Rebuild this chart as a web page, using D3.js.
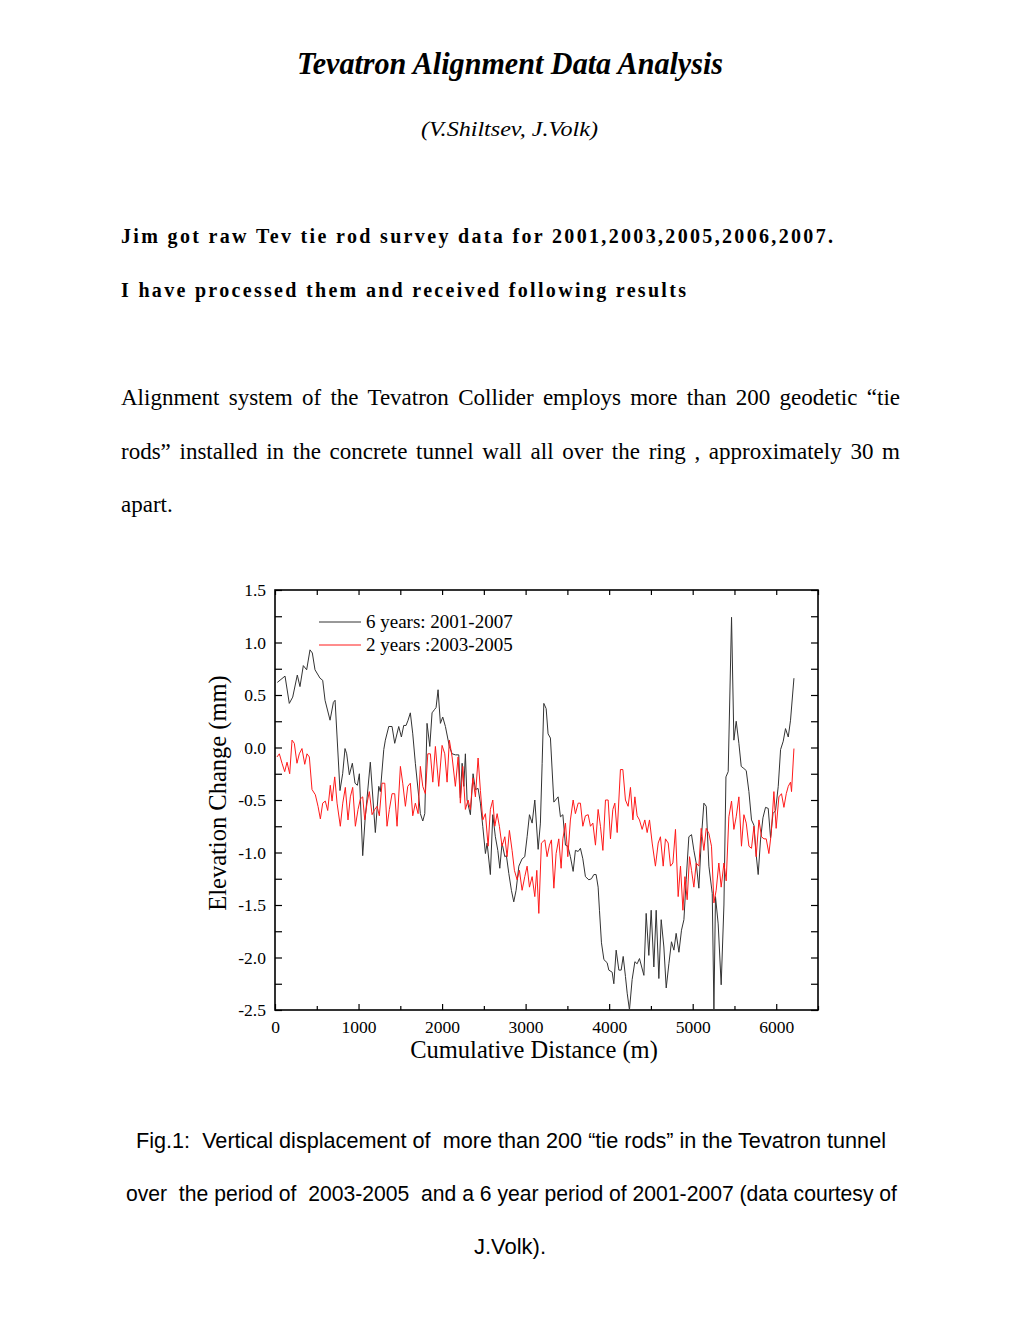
<!DOCTYPE html>
<html>
<head>
<meta charset="utf-8">
<script src="https://d3js.org/d3.v7.min.js"></script>
<style>
  body { margin: 0; background: #fff; }
  text { fill: #000; }
</style>
</head>
<body>
<div id="page"></div>
<script>
// Tie rod survey data (distance in m, elevation change in mm)
var sixYearDist = [
  28, 120, 171, 212, 267, 299, 339, 379, 419, 447,
  479, 539, 571, 599, 659, 699, 719, 778, 810, 838,
  858, 890, 926, 958, 986, 1010, 1050, 1078, 1141, 1201,
  1242, 1261, 1302, 1321, 1362, 1401, 1433, 1481, 1513, 1541,
  1569, 1593, 1620, 1649, 1680, 1721, 1740, 1769, 1793, 1820,
  1853, 1880, 1908, 1928, 1952, 1980, 2008, 2040, 2087, 2120,
  2159, 2200, 2219, 2240, 2260, 2279, 2299, 2339, 2371, 2399,
  2431, 2459, 2487, 2519, 2539, 2578, 2607, 2638, 2667, 2691,
  2718, 2751, 2770, 2799, 2830, 2858, 2886, 2919, 2958, 2990,
  3018, 3046, 3078, 3110, 3150, 3177, 3198, 3218, 3246, 3269,
  3297, 3338, 3389, 3417, 3446, 3477, 3505, 3536, 3569, 3596,
  3629, 3656, 3685, 3716, 3757, 3788, 3817, 3844, 3868, 3884,
  3908, 3937, 3976, 3996, 4036, 4056, 4084, 4116, 4144, 4168,
  4195, 4216, 4243, 4275, 4308, 4335, 4363, 4416, 4443, 4475,
  4503, 4535, 4563, 4595, 4623, 4655, 4683, 4715, 4746, 4775,
  4802, 4835, 4866, 4895, 4922, 4954, 4986, 5014, 5042, 5074,
  5105, 5134, 5162, 5194, 5234, 5254, 5273, 5305, 5341, 5374,
  5398, 5425, 5465, 5493, 5521, 5553, 5581, 5613, 5641, 5673,
  5704, 5733, 5760, 5784, 5812, 5841, 5872, 5904, 5932, 5961,
  5992, 6024, 6052, 6084, 6111, 6144, 6171, 6212
];
var sixYearElev = [
  0.62, 0.68, 0.42, 0.48, 0.69, 0.58, 0.78, 0.74, 0.93, 0.90,
  0.74, 0.66, 0.64, 0.45, 0.26, 0.43, 0.45, -0.41, -0.25, -0.01,
  -0.06, -0.26, -0.15, -0.34, -0.36, -0.25, -1.03, -0.69, -0.14, -0.81,
  -0.37, -0.42, -0.02, 0.07, 0.20, 0.20, 0.04, 0.20, 0.10, 0.21,
  0.21, 0.26, 0.33, 0.13, -0.15, -0.47, -0.63, -0.70, -0.63, 0.23,
  0.01, 0.33, 0.36, 0.38, 0.55, 0.23, 0.29, 0.20, 0.01, -0.06,
  -0.07, -0.07, -0.48, -0.15, -0.37, -0.06, -0.50, -0.64, -0.25, -0.40,
  -0.39, -0.53, -0.75, -1.01, -0.91, -1.21, -0.64, -0.85, -0.98, -1.15,
  -0.91, -1.04, -1.03, -1.20, -1.36, -1.47, -1.36, -1.13, -1.06, -1.04,
  -0.85, -0.64, -0.72, -0.50, -0.97, -0.72, -0.15, 0.42, 0.37, 0.13,
  0.09, -0.52, -0.47, -0.66, -0.64, -0.93, -0.94, -1.04, -1.18, -0.98,
  -0.99, -0.96, -1.06, -1.23, -1.26, -1.25, -1.21, -1.21, -1.33, -1.55,
  -1.86, -2.02, -2.05, -2.12, -2.14, -2.25, -1.93, -2.12, -2.12, -1.99,
  -2.18, -2.34, -2.50, -2.21, -2.04, -2.06, -2.01, -2.17, -1.58, -1.98,
  -1.55, -2.09, -1.55, -2.20, -1.64, -1.90, -2.29, -2.06, -1.85, -1.93,
  -1.77, -1.95, -1.74, -1.64, -1.26, -0.85, -0.83, -0.98, -1.10, -1.34,
  -0.85, -0.53, -0.56, -1.13, -1.39, -2.50, -1.42, -1.68, -2.26, -1.50,
  -0.28, -0.23, 1.24, 0.07, 0.25, 0.04, -0.18, -0.20, -0.22, -0.42,
  -0.69, -0.74, -1.02, -1.21, -0.88, -0.67, -0.57, -0.58, -0.86, -0.63,
  -0.60, -0.37, -0.02, 0.06, 0.18, 0.10, 0.26, 0.66
];

var twoYearDist = [
  24, 52, 84, 116, 144, 176, 204, 231, 263, 291,
  323, 356, 383, 411, 443, 483, 515, 543, 571, 602,
  631, 662, 683, 715, 743, 782, 811, 842, 874, 902,
  930, 962, 994, 1022, 1050, 1074, 1102, 1129, 1162, 1194,
  1222, 1249, 1281, 1314, 1341, 1369, 1401, 1433, 1461, 1501,
  1529, 1561, 1589, 1620, 1649, 1680, 1713, 1740, 1769, 1800,
  1829, 1860, 1889, 1920, 1960, 2000, 2032, 2060, 2087, 2120,
  2159, 2192, 2219, 2248, 2279, 2311, 2339, 2368, 2399, 2431,
  2459, 2487, 2519, 2551, 2578, 2607, 2631, 2659, 2686, 2718,
  2751, 2778, 2806, 2838, 2866, 2898, 2926, 2958, 2990, 3018,
  3046, 3078, 3110, 3134, 3158, 3189, 3230, 3257, 3285, 3309,
  3338, 3365, 3397, 3425, 3446, 3477, 3505, 3536, 3569, 3596,
  3629, 3656, 3685, 3716, 3749, 3776, 3805, 3836, 3868, 3896,
  3925, 3956, 3988, 4016, 4044, 4068, 4096, 4135, 4164, 4195,
  4227, 4255, 4284, 4308, 4335, 4363, 4395, 4427, 4455, 4483,
  4515, 4554, 4587, 4614, 4647, 4674, 4707, 4734, 4763, 4794,
  4826, 4854, 4883, 4907, 4934, 4962, 4986, 5014, 5042, 5074,
  5102, 5134, 5162, 5194, 5225, 5254, 5281, 5313, 5341, 5374,
  5401, 5433, 5465, 5493, 5521, 5553, 5584, 5613, 5641, 5673,
  5704, 5733, 5760, 5793, 5824, 5853, 5880, 5912, 5940, 5972,
  5999, 6032, 6063, 6092, 6120, 6144, 6171, 6183, 6212
];
var twoYearElev = [
  -0.09, -0.06, -0.15, -0.23, -0.14, -0.25, 0.07, 0.04, -0.15, -0.06,
  -0.01, -0.16, -0.06, -0.09, -0.40, -0.45, -0.56, -0.68, -0.53, -0.51,
  -0.60, -0.36, -0.51, -0.28, -0.53, -0.75, -0.53, -0.38, -0.69, -0.47,
  -0.38, -0.75, -0.59, -0.49, -0.47, -0.69, -0.53, -0.42, -0.64, -0.59,
  -0.56, -0.65, -0.34, -0.34, -0.75, -0.59, -0.44, -0.44, -0.75, -0.18,
  -0.34, -0.56, -0.37, -0.34, -0.65, -0.53, -0.63, -0.18, -0.37, -0.44,
  -0.06, -0.06, -0.33, 0.01, -0.37, 0.02, -0.06, -0.33, 0.07, -0.09,
  -0.37, -0.09, -0.53, -0.18, -0.59, -0.50, -0.59, -0.29, -0.47, -0.10,
  -0.41, -0.69, -0.63, -0.94, -0.59, -0.50, -0.75, -0.63, -0.75, -0.94,
  -0.85, -1.04, -0.79, -0.98, -1.17, -1.26, -1.17, -1.36, -1.23, -1.13,
  -1.33, -1.23, -1.42, -1.17, -1.58, -0.91, -0.88, -1.04, -0.93, -0.88,
  -1.34, -1.01, -0.87, -1.15, -0.87, -0.72, -1.04, -0.69, -0.50, -0.63,
  -0.53, -0.53, -0.75, -0.65, -0.64, -0.75, -0.72, -0.93, -0.59, -0.75,
  -0.98, -0.50, -0.50, -0.87, -0.59, -0.53, -0.81, -0.21, -0.21, -0.50,
  -0.56, -0.38, -0.69, -0.47, -0.65, -0.69, -0.78, -0.69, -0.81, -0.69,
  -0.91, -1.13, -0.91, -0.85, -1.13, -0.87, -0.91, -1.13, -1.10, -0.78,
  -1.42, -1.13, -1.55, -1.23, -1.45, -1.04, -1.17, -1.33, -1.10, -1.13,
  -0.77, -0.98, -0.77, -0.82, -0.94, -1.48, -1.36, -1.10, -1.33, -1.10,
  -1.27, -0.66, -0.51, -0.78, -0.66, -0.47, -0.94, -0.64, -0.72, -0.94,
  -0.96, -0.75, -1.04, -0.69, -0.85, -0.87, -0.87, -1.01, -0.82, -0.42,
  -0.77, -0.47, -0.44, -0.57, -0.44, -0.37, -0.33, -0.42, -0.01
];

// axis ticks
var xTicks = [0, 1000, 2000, 3000, 4000, 5000, 6000];
var xMinorTicks = [500, 1500, 2500, 3500, 4500, 5500, 6500];
var yTicks = [-2.5, -2.0, -1.5, -1.0, -0.5, 0.0, 0.5, 1.0, 1.5];
var yMinorTicks = [-2.25, -1.75, -1.25, -0.75, -0.25, 0.25, 0.75, 1.25];

var seriesNames = ["6 years: 2001-2007", "2 years :2003-2005"];
var seriesColors = ["#333333", "#ff1a1a"];

// Define svg width and height
var svgWidth = 1020;
var svgHeight = 1320;

// plot frame
var margin = { top: 590, left: 275 };
var width = 543;
var height = 420;

var svg = d3.select("#page")
  .append("svg")
  .attr("width", svgWidth)
  .attr("height", svgHeight)
  .style("display", "block");

svg.append("rect")
  .attr("width", svgWidth)
  .attr("height", svgHeight)
  .attr("fill", "#fff");

var serif = "'Liberation Serif', 'Times New Roman', serif";
var sans = "'Liberation Sans', Arial, sans-serif";

// stretch a line to a given width by changing the spaces (justified text)
function justify(t, target) {
  var natural = t.node().getComputedTextLength();
  var spaces = t.text().split(" ").length - 1;
  if (spaces > 0) {
    t.style("word-spacing", ((target - natural) / spaces) + "px");
  }
}

// ---- page text ----
svg.append("text")
  .attr("x", 297).attr("y", 74)
  .attr("textLength", 426).attr("lengthAdjust", "spacingAndGlyphs")
  .style("font-family", serif).style("font-size", "31px")
  .style("font-weight", "bold").style("font-style", "italic")
  .text("Tevatron Alignment Data Analysis");

svg.append("text")
  .attr("x", 421).attr("y", 136)
  .attr("textLength", 177).attr("lengthAdjust", "spacingAndGlyphs")
  .style("font-family", serif).style("font-size", "22px")
  .style("font-style", "italic")
  .text("(V.Shiltsev, J.Volk)");

var boldLines = [
  { text: "Jim got raw Tev tie rod survey data for 2001,2003,2005,2006,2007.", y: 243, len: 712 },
  { text: "I have processed them and received following results", y: 297, len: 565 }
];
boldLines.forEach(function(l) {
  svg.append("text")
    .attr("x", 121).attr("y", l.y)
    .attr("textLength", l.len).attr("lengthAdjust", "spacing")
    .style("font-family", serif).style("font-size", "20px")
    .style("font-weight", "bold")
    .text(l.text);
});

var paraLines = [
  { text: "Alignment system of the Tevatron Collider employs more than 200 geodetic \u201ctie", y: 405, len: 779 },
  { text: "rods\u201d installed in the concrete tunnel wall all over the ring , approximately 30 m", y: 459, len: 779 },
  { text: "apart.", y: 512, len: null }
];
paraLines.forEach(function(l) {
  var t = svg.append("text")
    .attr("x", 121).attr("y", l.y)
    .style("font-family", serif).style("font-size", "23px")
    .text(l.text);
  if (l.len) justify(t, l.len);
});

// figure caption
var captionLines = [
  { text: "Fig.1:  Vertical displacement of  more than 200 \u201ctie rods\u201d in the Tevatron tunnel", y: 1148, x: 136, len: 750 },
  { text: "over  the period of  2003-2005  and a 6 year period of 2001-2007 (data courtesy of", y: 1201, x: 126, len: 771 }
];
captionLines.forEach(function(l) {
  svg.append("text")
    .attr("x", l.x).attr("y", l.y)
    .attr("textLength", l.len).attr("lengthAdjust", "spacingAndGlyphs")
    .style("font-family", sans).style("font-size", "22px")
    .style("white-space", "pre")
    .text(l.text);
});
svg.append("text")
  .attr("x", 510).attr("y", 1254)
  .attr("text-anchor", "middle")
  .style("font-family", sans).style("font-size", "22px")
  .text("J.Volk).");

// ---- chart ----
var xScale = d3.scaleLinear()
  .domain([0, 6500])
  .range([margin.left, margin.left + width]);

var yScale = d3.scaleLinear()
  .domain([-2.5, 1.5])
  .range([margin.top + height, margin.top]);

var chartGroup = svg.append("g").classed("chart", true);

// helper to style an axis group
function styleAxis(g) {
  g.select(".domain").remove();
  g.selectAll("line").attr("stroke", "#000").attr("stroke-width", 1.2);
  g.selectAll("text")
    .style("font-family", serif)
    .style("font-size", "17.5px")
    .attr("fill", "#000");
}

// bottom axis (ticks inward)
chartGroup.append("g")
  .attr("transform", `translate(0, ${margin.top + height})`)
  .call(d3.axisBottom(xScale).tickValues(xTicks).tickSize(-6).tickPadding(11).tickFormat(d => d))
  .call(styleAxis);
chartGroup.append("g")
  .attr("transform", `translate(0, ${margin.top + height})`)
  .call(d3.axisBottom(xScale).tickValues(xMinorTicks).tickSize(-4).tickFormat(""))
  .call(styleAxis);

// top axis
chartGroup.append("g")
  .attr("transform", `translate(0, ${margin.top})`)
  .call(d3.axisTop(xScale).tickValues(xTicks.concat(xMinorTicks)).tickSize(-5).tickFormat(""))
  .call(styleAxis);

// left axis
chartGroup.append("g")
  .attr("transform", `translate(${margin.left}, 0)`)
  .call(d3.axisLeft(yScale).tickValues(yTicks).tickSize(-7).tickPadding(9).tickFormat(d => d.toFixed(1)))
  .call(styleAxis);
chartGroup.append("g")
  .attr("transform", `translate(${margin.left}, 0)`)
  .call(d3.axisLeft(yScale).tickValues(yMinorTicks).tickSize(-7).tickFormat(""))
  .call(styleAxis);

// right axis
chartGroup.append("g")
  .attr("transform", `translate(${margin.left + width}, 0)`)
  .call(d3.axisRight(yScale).tickValues(yTicks.concat(yMinorTicks)).tickSize(-7).tickFormat(""))
  .call(styleAxis);

// frame
chartGroup.append("rect")
  .attr("x", margin.left).attr("y", margin.top)
  .attr("width", width).attr("height", height)
  .attr("fill", "none")
  .attr("stroke", "#000")
  .attr("stroke-width", 1.6);

// data lines
var line = d3.line()
  .x(d => xScale(d[0]))
  .y(d => yScale(d[1]));

var sixYearData = sixYearDist.map((d, i) => [d, sixYearElev[i]]);
var twoYearData = twoYearDist.map((d, i) => [d, twoYearElev[i]]);

chartGroup.append("path")
  .datum(sixYearData)
  .attr("d", line)
  .attr("fill", "none")
  .attr("stroke", seriesColors[0])
  .attr("stroke-width", 1);

chartGroup.append("path")
  .datum(twoYearData)
  .attr("d", line)
  .attr("fill", "none")
  .attr("stroke", seriesColors[1])
  .attr("stroke-width", 1);

// legend
var legend = chartGroup.append("g")
  .attr("transform", "translate(319, 622)");

seriesNames.forEach(function(name, i) {
  legend.append("line")
    .attr("x1", 0).attr("x2", 42)
    .attr("y1", i * 23).attr("y2", i * 23)
    .attr("stroke", seriesColors[i])
    .attr("stroke-width", 1);
  legend.append("text")
    .attr("x", 47).attr("y", i * 23 + 6)
    .style("font-family", serif).style("font-size", "19px")
    .text(name);
});

// axis titles
chartGroup.append("text")
  .attr("x", margin.left + 259).attr("y", 1058)
  .attr("text-anchor", "middle")
  .style("font-family", serif).style("font-size", "24.5px")
  .text("Cumulative Distance (m)");

chartGroup.append("text")
  .attr("transform", "translate(226, 793) rotate(-90)")
  .attr("text-anchor", "middle")
  .style("font-family", serif).style("font-size", "24.5px")
  .text("Elevation Change (mm)");
</script>
</body>
</html>
